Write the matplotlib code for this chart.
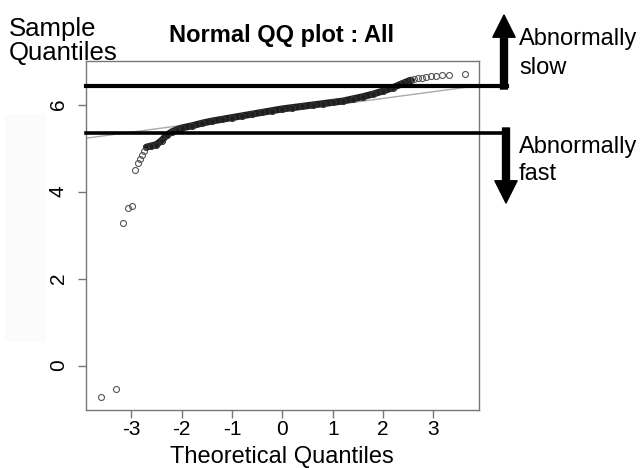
import matplotlib
matplotlib.use('Agg')
import matplotlib.pyplot as plt
from matplotlib.patches import Rectangle

plt.rcParams['font.family'] = ['Liberation Sans', 'DejaVu Sans']

# sparse outlying points (theoretical quantile, sample quantile)
low_x = [-3.60, -3.31, -3.16, -3.06, -2.98, -2.92, -2.87, -2.82, -2.78, -2.74]
low_y = [-0.73, -0.54, 3.27, 3.63, 3.67, 4.50, 4.65, 4.75, 4.83, 4.93]
high_x = [2.62, 2.70, 2.78, 2.86, 2.95, 3.05, 3.17, 3.32, 3.62]
high_y = [6.58, 6.60, 6.62, 6.64, 6.65, 6.66, 6.67, 6.68, 6.71]

# dense middle of the sample
mid_x = [-2.70, -2.60, -2.50, -2.40, -2.30, -2.20, -2.10, -2.00, -1.80, -1.60,
         -1.40, -1.20, -1.00, -0.80, -0.60, -0.40, -0.20, 0.00, 0.20, 0.40,
         0.60, 0.80, 1.00, 1.20, 1.40, 1.60, 1.80, 2.00, 2.20, 2.40, 2.55]
mid_y = [5.02, 5.05, 5.08, 5.17, 5.29, 5.37, 5.42, 5.46, 5.51, 5.57,
         5.62, 5.66, 5.70, 5.74, 5.78, 5.82, 5.86, 5.90, 5.93, 5.96,
         5.99, 6.02, 6.05, 6.08, 6.13, 6.18, 6.24, 6.31, 6.39, 6.49, 6.56]

# qq reference line
line_intercept = 5.83
line_slope = 0.155

# thresholds
slow_level = 6.43
fast_level = 5.34

x_ticks = [-3, -2, -1, 0, 1, 2, 3]
y_ticks = [0, 2, 4, 6]

fig = plt.figure(figsize=(6.41, 4.68), dpi=100)
fig.patches.append(Rectangle((5 / 641, 128 / 468), 40 / 641, 225 / 468,
                             transform=fig.transFigure, color='#fbfbfb', zorder=0))
ax = fig.add_axes([86 / 641, 58 / 468, 392.7 / 641, 349 / 468])

ax.axline((0, line_intercept), slope=line_slope, color='#aaaaaa', lw=1.0, zorder=1)
ax.plot(mid_x, mid_y, color='#1e1e1e', lw=5.0, solid_capstyle='round', zorder=2)
ax.plot(mid_x, mid_y, 'o', ms=4.3, mfc='none', mec='#333333', mew=0.8, zorder=3)
ax.plot(low_x, low_y, 'o', ms=4.3, mfc='none', mec='#555555', mew=0.8, zorder=3)
ax.plot(high_x, high_y, 'o', ms=4.3, mfc='none', mec='#555555', mew=0.8, zorder=3)

ax.axhline(slow_level, xmin=0, xmax=1.072, color='black', lw=3.0, clip_on=False, zorder=4)
ax.axhline(fast_level, xmin=0, xmax=1.062, color='black', lw=2.6, clip_on=False, zorder=4)

ax.set_xlim(-3.9, 3.9)
ax.set_ylim(-1.02, 7.0)
ax.set_xticks(x_ticks)
ax.set_xticklabels([str(v) for v in x_ticks])
ax.set_yticks(y_ticks)
ax.set_yticklabels([str(v) for v in y_ticks], rotation=90, va='center')
for s in ax.spines.values():
    s.set_color('#777777')
    s.set_linewidth(1.0)
ax.tick_params(axis='both', colors='#777777', labelcolor='black', length=5.5,
               width=1.0, labelsize=15)
ax.tick_params(axis='x', pad=1.8)
ax.tick_params(axis='y', pad=7.5)

fig.text(282 / 641, 1 - 463 / 468, 'Theoretical Quantiles', fontsize=17, ha='center',
         va='baseline')
fig.text(281.5 / 641, 1 - 42 / 468, 'Normal QQ plot : All', fontsize=17,
         fontweight='bold', ha='center', va='baseline')
fig.text(9 / 641, 1 - 60 / 468, 'Sample\nQuantiles', fontsize=18.5, ha='left',
         va='baseline', linespacing=1.0)

arrow_kw = dict(arrowstyle='simple,head_length=1.6,head_width=1.6,tail_width=0.5',
                color='black', shrinkA=0, shrinkB=0, mutation_scale=10)
ax.annotate('', xy=(504, 468 - 15), xytext=(504, 468 - 89),
            xycoords='figure pixels', textcoords='figure pixels', arrowprops=arrow_kw)
ax.annotate('', xy=(506, 468 - 203), xytext=(506, 468 - 128),
            xycoords='figure pixels', textcoords='figure pixels', arrowprops=arrow_kw)

fig.text(519 / 641, 1 - 45 / 468, 'Abnormally', fontsize=17, va='baseline')
fig.text(519 / 641, 1 - 74 / 468, 'slow', fontsize=17, va='baseline')
fig.text(519 / 641, 1 - 153 / 468, 'Abnormally', fontsize=17, va='baseline')
fig.text(519 / 641, 1 - 180 / 468, 'fast', fontsize=17, va='baseline')

fig.savefig('out.png', dpi=100)
